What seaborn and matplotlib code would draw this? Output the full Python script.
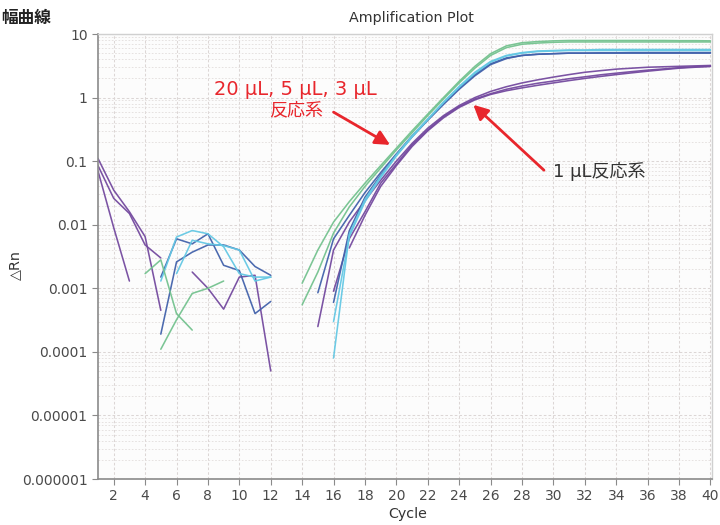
import matplotlib
matplotlib.use("Agg")
import matplotlib.pyplot as plt
import numpy as np
import pandas as pd
import seaborn as sns
from matplotlib.ticker import FixedLocator, LogLocator, NullFormatter

# ---------------- data ----------------
x_ticks = list(range(2, 41, 2))
y_tick_values = [1e-6, 1e-5, 1e-4, 1e-3, 1e-2, 1e-1, 1, 10]
y_tick_labels = ["0.000001", "0.00001", "0.0001", "0.001", "0.01", "0.1", "1", "10"]

# baseline (noise) segments: start cycle + values
p1_base_start, p1_base = 1, [0.07, 0.009, 0.0013]
p2_base_start, p2_base = 1, [0.11, 0.035, 0.016, 0.0065, 0.00045]
p3_base_start, p3_base = 1, [0.085, 0.026, 0.015, 0.0048, 0.003]
p3_base2_start, p3_base2 = 7, [0.0018, 0.001, 0.00047, 0.0015, 0.0016, 0.00005]
b1_base_start, b1_base = 5, [0.0015, 0.006, 0.005, 0.0072, 0.0023, 0.0019, 0.0004, 0.00062]
b2_base_start, b2_base = 5, [0.00019, 0.0026, 0.0037, 0.0048, 0.0048, 0.004, 0.0022, 0.0016]
c1_base_start, c1_base = 5, [0.0013, 0.0064, 0.0081, 0.0072, 0.0045, 0.0017, 0.0015, 0.0015]
c2_base_start, c2_base = 6, [0.0017, 0.0057, 0.005, 0.0047, 0.004, 0.0013, 0.0015]
g1_base_start, g1_base = 4, [0.0017, 0.0028, 0.0004, 0.00022]
g2_base_start, g2_base = 5, [0.00011, 0.00032, 0.00083, 0.001, 0.0013]

# amplification segments: start cycle + values up to cycle 40
g1_amp_start, g1_amp = 14, [0.0012, 0.004, 0.011, 0.023, 0.045, 0.085, 0.16, 0.3, 0.55, 1.0,
                            1.8, 3.1, 4.9, 6.5, 7.3, 7.6, 7.8, 7.9, 7.9, 7.9,
                            7.9, 7.9, 7.9, 7.9, 7.85, 7.85, 7.8]
g2_amp_start, g2_amp = 14, [0.00055, 0.0018, 0.0074, 0.019, 0.04, 0.078, 0.15, 0.28, 0.52, 0.95,
                            1.7, 2.9, 4.6, 6.1, 6.9, 7.2, 7.4, 7.5, 7.5, 7.5,
                            7.5, 7.5, 7.5, 7.5, 7.5, 7.5, 7.5]
c1_amp_start, c1_amp = 16, [0.00008, 0.007, 0.025, 0.058, 0.125, 0.25, 0.46, 0.85, 1.5, 2.5,
                            3.7, 4.6, 5.1, 5.4, 5.5, 5.6, 5.6, 5.7, 5.7, 5.7,
                            5.7, 5.7, 5.7, 5.7, 5.7]
c2_amp_start, c2_amp = 16, [0.0003, 0.0065, 0.023, 0.055, 0.12, 0.24, 0.45, 0.83, 1.45, 2.4,
                            3.6, 4.5, 5.0, 5.3, 5.4, 5.5, 5.5, 5.5, 5.5, 5.5,
                            5.5, 5.5, 5.5, 5.5, 5.5]
b1_amp_start, b1_amp = 15, [0.00085, 0.006, 0.014, 0.032, 0.066, 0.13, 0.25, 0.45, 0.8, 1.4,
                            2.3, 3.4, 4.2, 4.6, 4.8, 4.9, 5.0, 5.0, 5.05, 5.05,
                            5.1, 5.1, 5.1, 5.1, 5.1, 5.1]
b2_amp_start, b2_amp = 16, [0.0006, 0.008, 0.027, 0.06, 0.125, 0.24, 0.44, 0.78, 1.35, 2.2,
                            3.3, 4.1, 4.6, 4.8, 4.9, 5.0, 5.0, 5.0, 5.0, 5.0,
                            5.0, 5.0, 5.0, 5.0, 5.0]
p1_amp_start, p1_amp = 15, [0.00025, 0.004, 0.011, 0.024, 0.05, 0.1, 0.19, 0.33, 0.52, 0.75,
                            1.0, 1.25, 1.48, 1.7, 1.9, 2.1, 2.3, 2.5, 2.65, 2.8,
                            2.9, 3.0, 3.05, 3.1, 3.15, 3.2]
p2_amp_start, p2_amp = 17, [0.0043, 0.014, 0.04, 0.085, 0.17, 0.3, 0.48, 0.7, 0.92, 1.12,
                            1.28, 1.42, 1.56, 1.7, 1.85, 2.0, 2.15, 2.3, 2.45, 2.6,
                            2.75, 2.9, 3.0, 3.1]
p3_amp_start, p3_amp = 16, [0.0009, 0.006, 0.016, 0.045, 0.09, 0.18, 0.31, 0.5, 0.72, 0.95,
                            1.15, 1.35, 1.52, 1.68, 1.82, 1.98, 2.12, 2.28, 2.42, 2.56,
                            2.7, 2.82, 2.95, 3.05, 3.1]

segments = [
    ("purple", p1_base_start, p1_base), ("purple", p2_base_start, p2_base),
    ("purple", p3_base_start, p3_base), ("purple", p3_base2_start, p3_base2),
    ("blue", b1_base_start, b1_base), ("blue", b2_base_start, b2_base),
    ("cyan", c1_base_start, c1_base), ("cyan", c2_base_start, c2_base),
    ("green", g1_base_start, g1_base), ("green", g2_base_start, g2_base),
    ("purple", p1_amp_start, p1_amp), ("purple", p2_amp_start, p2_amp),
    ("purple", p3_amp_start, p3_amp),
    ("blue", b1_amp_start, b1_amp), ("blue", b2_amp_start, b2_amp),
    ("cyan", c1_amp_start, c1_amp), ("cyan", c2_amp_start, c2_amp),
    ("green", g1_amp_start, g1_amp), ("green", g2_amp_start, g2_amp),
]

rows = []
for seg_id, (grp, start, vals) in enumerate(segments):
    for i, v in enumerate(vals):
        rows.append({"cycle": start + i, "rn": v, "group": grp, "seg": seg_id})
df = pd.DataFrame(rows)

palette = {"green": "#74c28f", "cyan": "#64c8e4", "blue": "#4262ab", "purple": "#744a9f"}

# ---------------- figure ----------------
sns.set_theme(style="white")
plt.rcParams["font.family"] = ["DejaVu Sans", "Noto Sans CJK JP"]

fig = plt.figure(figsize=(7.2, 5.25), dpi=100)
ax = fig.add_axes([98 / 720, 1 - 479 / 525, (712 - 98) / 720, (479 - 34) / 525])
ax.set_facecolor("#fcfcfc")

sns.lineplot(data=df, x="cycle", y="rn", hue="group", units="seg", estimator=None,
             palette=palette, linewidth=1.15, alpha=0.95, legend=False, ax=ax)

ax.set_yscale("log")
ax.set_xlim(1, 40.1)
ax.set_ylim(1e-6, 10)
ax.yaxis.set_major_locator(FixedLocator(y_tick_values))
ax.set_yticklabels(y_tick_labels)
ax.yaxis.set_minor_locator(LogLocator(base=10, subs=np.arange(2, 10), numticks=20))
ax.yaxis.set_minor_formatter(NullFormatter())
ax.set_xticks(x_ticks)
ax.set_xlabel("")
ax.set_ylabel("")

grid_kw = dict(color="#dcd6d5", linestyle=(0, (2.5, 2)), linewidth=0.75)
ax.grid(True, which="major", axis="y", **grid_kw)
ax.grid(True, which="minor", axis="y", color="#e2dddc", linestyle=(0, (2, 2)), linewidth=0.6)
ax.grid(True, which="major", axis="x", **grid_kw)
ax.set_axisbelow(True)

ax.tick_params(axis="both", which="major", labelsize=10, labelcolor="#4a4a4a",
               color="#8a8a8a", length=4, width=0.8, direction="out", left=True, bottom=True)
ax.tick_params(axis="y", which="minor", length=0)
for s in ["left", "bottom"]:
    ax.spines[s].set_color("#8a8a8a")
    ax.spines[s].set_linewidth(1.2)
for s in ["top", "right"]:
    ax.spines[s].set_color("#d0d0d0")
    ax.spines[s].set_linewidth(1.0)

red = "#e8262c"
ax.text(13.6, 1.32, "20 µL, 5 µL, 3 µL", ha="center", va="center", color=red, fontsize=14)
ax.text(13.6, 0.62, "反応系", ha="center", va="center", color=red, fontsize=13)
ax.annotate("", xy=(19.6, 0.18), xytext=(16.0, 0.59),
            arrowprops=dict(arrowstyle="-|>", color=red, lw=2, mutation_scale=22,
                            shrinkA=0, shrinkB=0))
ax.text(29.95, 0.068, "1 µL反応系", ha="left", va="center", color="#333333", fontsize=13)
ax.annotate("", xy=(24.9, 0.77), xytext=(29.4, 0.072),
            arrowprops=dict(arrowstyle="-|>", color=red, lw=2, mutation_scale=22,
                            shrinkA=0, shrinkB=0))

fig.text(411 / 720, 1 - 18 / 525, "Amplification Plot", ha="center", va="center",
         fontsize=10.3, color="#333333")
fig.text(1 / 720, 1 - 18 / 525, "幅曲線", ha="left", va="center",
         fontsize=12, weight="bold", color="#222222")
fig.text(15 / 720, 1 - 265 / 525, "△Rn", rotation=90, ha="center", va="center",
         fontsize=10.3, color="#333333")
fig.text(408 / 720, 1 - 514 / 525, "Cycle", ha="center", va="center",
         fontsize=10.3, color="#333333")

fig.savefig("out.png", dpi=100)
